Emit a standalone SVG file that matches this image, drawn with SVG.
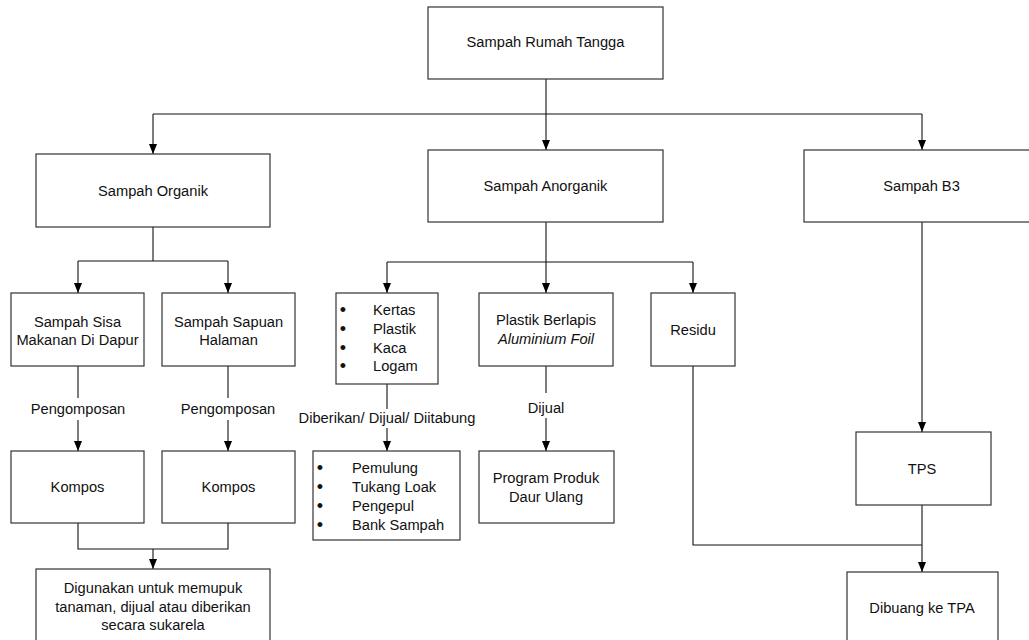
<svg xmlns="http://www.w3.org/2000/svg" width="1029" height="640" viewBox="0 0 1029 640">
<style>
.box{fill:#fff;stroke:#333;stroke-width:1.2}
.ln{fill:none;stroke:#111;stroke-width:1.1}
text{font-family:"Liberation Sans",Arial,sans-serif;font-size:14.67px;fill:#111}
.c{text-anchor:middle}
.i{font-style:italic}
.b{font-size:18px;text-anchor:middle}
</style>
<defs>
<marker id="arr" viewBox="0 0 10 8" refX="10" refY="4" markerWidth="10" markerHeight="8" markerUnits="userSpaceOnUse" orient="auto">
<path d="M0,0 L10,4 L0,8 z" fill="#000"/>
</marker>
</defs>
<rect width="1029" height="640" fill="#fff"/>
<g id="connectors">
<path class="ln" d="M546,79 V150" marker-end="url(#arr)"/>
<path class="ln" d="M153,114 H922"/>
<path class="ln" d="M153,114 V154" marker-end="url(#arr)"/>
<path class="ln" d="M922,114 V150" marker-end="url(#arr)"/>
<path class="ln" d="M153,227 V261"/>
<path class="ln" d="M78,261 H228"/>
<path class="ln" d="M78,261 V293" marker-end="url(#arr)"/>
<path class="ln" d="M228,261 V293" marker-end="url(#arr)"/>
<path class="ln" d="M546,222 V293" marker-end="url(#arr)"/>
<path class="ln" d="M387,262 H693"/>
<path class="ln" d="M387,262 V293" marker-end="url(#arr)"/>
<path class="ln" d="M693,262 V293" marker-end="url(#arr)"/>
<path class="ln" d="M78,366 V398"/>
<path class="ln" d="M78,420 V451" marker-end="url(#arr)"/>
<path class="ln" d="M228,366 V398"/>
<path class="ln" d="M228,420 V451" marker-end="url(#arr)"/>
<path class="ln" d="M387,384 V409"/>
<path class="ln" d="M387,428 V451" marker-end="url(#arr)"/>
<path class="ln" d="M546,366 V393"/>
<path class="ln" d="M546,418 V451" marker-end="url(#arr)"/>
<path class="ln" d="M693,366 V545 H922"/>
<path class="ln" d="M922,222 V432" marker-end="url(#arr)"/>
<path class="ln" d="M922,505 V572" marker-end="url(#arr)"/>
<path class="ln" d="M78,523 V549 H228 V523"/>
<path class="ln" d="M153,549 V569" marker-end="url(#arr)"/>
<text class="c" x="78" y="414">Pengomposan</text>
<text class="c" x="228" y="414">Pengomposan</text>
<text class="c" x="387" y="423">Diberikan/ Dijual/ Diitabung</text>
<text class="c" x="546" y="413">Dijual</text>
</g>
<g id="rumah-tangga">
<rect class="box" x="428" y="7" width="235" height="72"/>
<text class="c" x="545.5" y="47">Sampah Rumah Tangga</text>
</g>
<g id="organik">
<rect class="box" x="36" y="154" width="234" height="73"/>
<text class="c" x="153" y="196">Sampah Organik</text>
</g>
<g id="anorganik">
<rect class="box" x="428" y="150" width="235" height="72"/>
<text class="c" x="545.5" y="191">Sampah Anorganik</text>
</g>
<g id="b3">
<rect class="box" x="804" y="150" width="240" height="72"/>
<text class="c" x="921.5" y="191">Sampah B3</text>
</g>
<g id="sisa-makanan">
<rect class="box" x="11" y="293" width="133" height="73"/>
<text class="c" x="77.5" y="327">Sampah Sisa</text>
<text class="c" x="77.5" y="345">Makanan Di Dapur</text>
</g>
<g id="sapuan">
<rect class="box" x="162" y="293" width="133" height="73"/>
<text class="c" x="228.5" y="327">Sampah Sapuan</text>
<text class="c" x="228.5" y="345">Halaman</text>
</g>
<g id="kertas">
<rect class="box" x="336" y="293" width="102" height="91"/>
<text class="b" x="343" y="316">•</text><text x="373" y="315">Kertas</text>
<text class="b" x="343" y="335">•</text><text x="373" y="334">Plastik</text>
<text class="b" x="343" y="354">•</text><text x="373" y="353">Kaca</text>
<text class="b" x="343" y="372">•</text><text x="373" y="371">Logam</text>
</g>
<g id="plastik-berlapis">
<rect class="box" x="479" y="293" width="134" height="73"/>
<text class="c" x="546" y="325">Plastik Berlapis</text>
<text class="c i" x="546" y="344">Aluminium Foil</text>
</g>
<g id="residu">
<rect class="box" x="651" y="293" width="84" height="73"/>
<text class="c" x="693" y="335">Residu</text>
</g>
<g id="kompos-1">
<rect class="box" x="11" y="451" width="133" height="72"/>
<text class="c" x="77.5" y="492">Kompos</text>
</g>
<g id="kompos-2">
<rect class="box" x="162" y="451" width="133" height="72"/>
<text class="c" x="228.5" y="492">Kompos</text>
</g>
<g id="pemulung">
<rect class="box" x="313" y="451" width="147" height="89"/>
<text class="b" x="320" y="474">•</text><text x="352" y="473">Pemulung</text>
<text class="b" x="320" y="493">•</text><text x="352" y="492">Tukang Loak</text>
<text class="b" x="320" y="512">•</text><text x="352" y="511">Pengepul</text>
<text class="b" x="320" y="531">•</text><text x="352" y="530">Bank Sampah</text>
</g>
<g id="program-daur-ulang">
<rect class="box" x="479" y="451" width="135" height="72"/>
<text class="c" x="546" y="483">Program Produk</text>
<text class="c" x="546" y="502">Daur Ulang</text>
</g>
<g id="tps">
<rect class="box" x="856" y="432" width="135" height="73"/>
<text class="c" x="922" y="474">TPS</text>
</g>
<g id="tpa">
<rect class="box" x="847" y="572" width="151" height="80"/>
<text class="c" x="922" y="613">Dibuang ke TPA</text>
</g>
<g id="digunakan">
<rect class="box" x="36" y="569" width="234" height="80"/>
<text class="c" x="153" y="593">Digunakan untuk memupuk</text>
<text class="c" x="153" y="612">tanaman, dijual atau diberikan</text>
<text class="c" x="153" y="630">secara sukarela</text>
</g>
</svg>
